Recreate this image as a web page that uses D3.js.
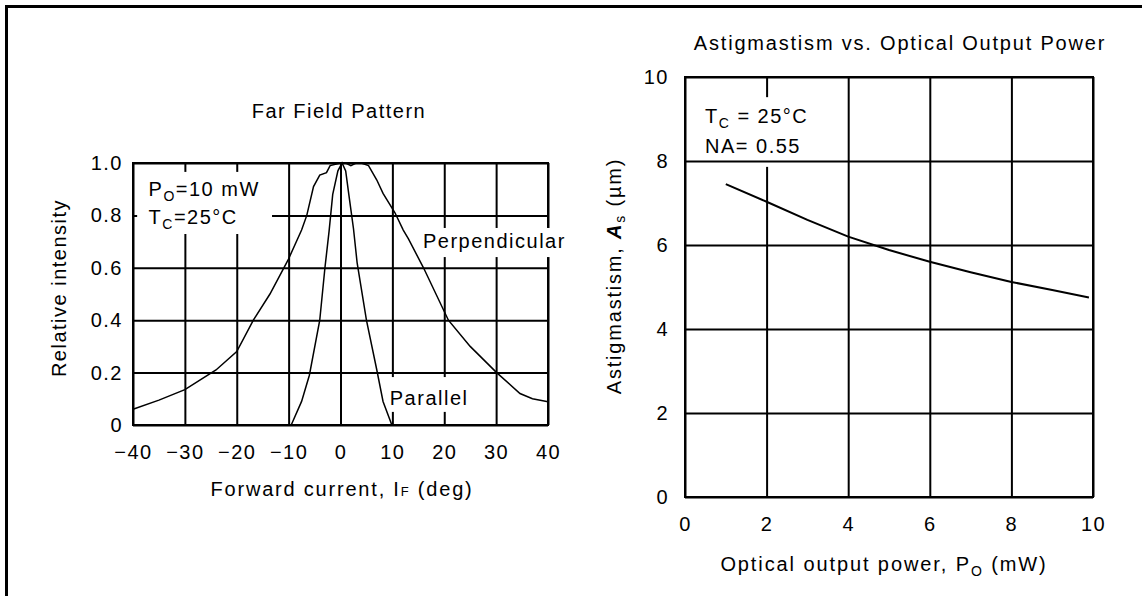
<!DOCTYPE html>
<html>
<script src="https://d3js.org/d3.v7.min.js"></script>
<head>
  <title>Far Field Pattern / Astigmatism</title>
  <style>
    body { margin: 0; background: #fff; }
    svg text { font-family: "Liberation Sans", Arial, sans-serif; font-size: 20px; letter-spacing: 1.5px; fill: #000; }
  </style>
</head>
<body>
<div id="canvas"></div>
<script>
// ---- left panel: far field pattern ----
var angleTicks = [-40, -30, -20, -10, 0, 10, 20, 30, 40];
var angleTickLabels = ["\u221240", "\u221230", "\u221220", "\u221210", "0", "10", "20", "30", "40"];
var intensityTicks = [0, 0.2, 0.4, 0.6, 0.8, 1.0];
var intensityTickLabels = ["0", "0.2", "0.4", "0.6", "0.8", "1.0"];

var perpAngle = [-40, -35, -30, -24, -20, -16.8, -13.6, -10.1, -7.5, -6.5, -5.2, -4, -2.7, -2, 0, 1, 2, 3, 4, 5.4, 7, 8.2, 10.5, 12.1, 13.1, 16, 20.8, 25, 30.1, 34.6, 37, 40];
var perpIntensity = [0.06, 0.095, 0.135, 0.21, 0.28, 0.40, 0.50, 0.63, 0.744, 0.80, 0.91, 0.954, 0.963, 0.99, 1.0, 1.0, 0.99, 1.0, 1.0, 0.99, 0.935, 0.884, 0.81, 0.744, 0.71, 0.6, 0.4, 0.3, 0.2, 0.12, 0.1, 0.089];

var parAngle = [-9.5, -7.5, -6, -4, -3, -2.2, -1.5, -0.5, 0.3, 1, 1.6, 2.5, 3.2, 5, 7, 8.2, 9.9];
var parIntensity = [0, 0.09, 0.19, 0.40, 0.60, 0.74, 0.88, 0.97, 1.0, 0.97, 0.88, 0.75, 0.62, 0.40, 0.21, 0.09, 0];

// ---- right panel: astigmatism vs optical output power ----
var powerTicks = [0, 2, 4, 6, 8, 10];
var astigTicks = [0, 2, 4, 6, 8, 10];
var powerMw = [1, 2, 3, 4, 5, 6, 7, 8, 9, 9.9];
var astigUm = [7.45, 7.03, 6.6, 6.2, 5.88, 5.6, 5.35, 5.12, 4.93, 4.75];

var width = 1142, height = 596;
var svg = d3.select("#canvas").append("svg")
  .attr("width", width)
  .attr("height", height);

// page frame (top and left only, as in the scan)
svg.append("path")
  .attr("d", "M6.5,596V6.5H1142")
  .attr("fill", "none")
  .attr("stroke", "#000")
  .attr("stroke-width", 3);

function styleGrid(g) {
  g.select(".domain").remove();
  g.selectAll(".tick line").attr("stroke", "#000").attr("stroke-width", 2);
}

// ================= left chart =================
var xL = d3.scaleLinear().domain([-40, 40]).range([133, 548]);
var yL = d3.scaleLinear().domain([0, 1]).range([425, 163]);

var left = svg.append("g");

left.append("g")
  .attr("transform", `translate(0,${yL(0)})`)
  .call(d3.axisBottom(xL).tickValues(angleTicks).tickSize(-(yL(0) - yL(1))).tickPadding(20)
    .tickFormat(function(d, i) { return angleTickLabels[i]; }))
  .call(styleGrid);

left.append("g")
  .attr("transform", `translate(${xL(-40)},0)`)
  .call(d3.axisLeft(yL).tickValues(intensityTicks).tickSize(-(xL(40) - xL(-40))).tickPadding(10)
    .tickFormat(function(d, i) { return intensityTickLabels[i]; }))
  .call(styleGrid);

left.append("rect")
  .attr("x", xL(-40)).attr("y", yL(1))
  .attr("width", xL(40) - xL(-40)).attr("height", yL(0) - yL(1))
  .attr("fill", "none").attr("stroke", "#000").attr("stroke-width", 2);

// white patches behind the in-plot labels
var leftBoxes = [[-39.2, -13.2, 0.966, 0.729], [15.5, 44.2, 0.752, 0.641], [9.2, 24.2, 0.183, 0.05]];
left.selectAll(".mask").data(leftBoxes).enter().append("rect")
  .attr("x", function(d) { return xL(d[0]); })
  .attr("y", function(d) { return yL(d[2]); })
  .attr("width", function(d) { return xL(d[1]) - xL(d[0]); })
  .attr("height", function(d) { return yL(d[3]) - yL(d[2]); })
  .attr("fill", "#fff");

var lineL = d3.line().x(function(d) { return xL(d[0]); }).y(function(d) { return yL(d[1]); });
left.append("path")
  .attr("d", lineL(d3.zip(perpAngle, perpIntensity)))
  .attr("fill", "none").attr("stroke", "#000").attr("stroke-width", 1.5);
left.append("path")
  .attr("d", lineL(d3.zip(parAngle, parIntensity)))
  .attr("fill", "none").attr("stroke", "#000").attr("stroke-width", 1.5);

var po = left.append("text").attr("x", xL(-37)).attr("y", yL(0.874));
po.append("tspan").text("P");
po.append("tspan").style("font-size", "14px").attr("dy", 5).text("O");
po.append("tspan").attr("dy", -5).text("=10 mW");
var tc = left.append("text").attr("x", xL(-37)).attr("y", yL(0.767));
tc.append("tspan").text("T");
tc.append("tspan").style("font-size", "14px").attr("dy", 5).text("C");
tc.append("tspan").attr("dy", -5).text("=25\u00B0C");

left.append("text").attr("x", xL(15.9)).attr("y", yL(0.676)).text("Perpendicular");
left.append("text").attr("x", xL(9.5)).attr("y", yL(0.076)).text("Parallel");

left.append("text").attr("x", 339).attr("y", 118).attr("text-anchor", "middle").text("Far Field  Pattern");

var xlab = left.append("text").attr("x", 342).attr("y", 496).attr("text-anchor", "middle")
  .style("letter-spacing", "1.8px");
xlab.append("tspan").text("Forward current, I");
xlab.append("tspan").style("font-size", "13px").text("F");
xlab.append("tspan").text(" (deg)");

left.append("text")
  .attr("transform", "translate(66,288) rotate(-90)")
  .attr("text-anchor", "middle")
  .text("Relative intensity");

// ================= right chart =================
var xR = d3.scaleLinear().domain([0, 10]).range([685, 1093]);
var yR = d3.scaleLinear().domain([0, 10]).range([497, 77]);

var right = svg.append("g");

right.append("g")
  .attr("transform", `translate(0,${yR(0)})`)
  .call(d3.axisBottom(xR).tickValues(powerTicks).tickSize(-(yR(0) - yR(10))).tickPadding(20))
  .call(styleGrid);

right.append("rect")
  .attr("x", xR(0.37)).attr("y", yR(9.52))
  .attr("width", xR(3.19) - xR(0.37)).attr("height", yR(7.86) - yR(9.52))
  .attr("fill", "#fff");

right.append("g")
  .attr("transform", `translate(${xR(0)},0)`)
  .call(d3.axisLeft(yR).tickValues(astigTicks).tickSize(-(xR(10) - xR(0))).tickPadding(16))
  .call(styleGrid);

right.append("rect")
  .attr("x", xR(0)).attr("y", yR(10))
  .attr("width", xR(10) - xR(0)).attr("height", yR(0) - yR(10))
  .attr("fill", "none").attr("stroke", "#000").attr("stroke-width", 2);

var lineR = d3.line().x(function(d) { return xR(d[0]); }).y(function(d) { return yR(d[1]); });
right.append("path")
  .attr("d", lineR(d3.zip(powerMw, astigUm)))
  .attr("fill", "none").attr("stroke", "#000").attr("stroke-width", 2);

var tc2 = right.append("text").attr("x", xR(0.49)).attr("y", yR(8.9));
tc2.append("tspan").text("T");
tc2.append("tspan").style("font-size", "14px").attr("dy", 5).text("C");
tc2.append("tspan").attr("dy", -5).text(" = 25\u00B0C");
right.append("text").attr("x", xR(0.49)).attr("y", yR(8.2)).text("NA= 0.55");

right.append("text").attr("x", 900).attr("y", 50).attr("text-anchor", "middle")
  .style("letter-spacing", "1.8px")
  .text("Astigmastism vs. Optical Output Power");

var xlab2 = right.append("text").attr("x", 884).attr("y", 571).attr("text-anchor", "middle")
  .style("letter-spacing", "1.9px");
xlab2.append("tspan").text("Optical output power, P");
xlab2.append("tspan").style("font-size", "14px").attr("dy", 5).text("O");
xlab2.append("tspan").attr("dy", -5).text("  (mW)");

var ylab2 = right.append("text")
  .attr("transform", "translate(621,276) rotate(-90)")
  .attr("text-anchor", "middle")
  .style("letter-spacing", "1.8px");
ylab2.append("tspan").text("Astigmastism, ");
ylab2.append("tspan").style("font-weight", "bold").style("font-style", "italic").text("A");
ylab2.append("tspan").style("font-size", "14px").attr("dy", 4).text("s");
ylab2.append("tspan").attr("dy", -4).text("  (\u00B5m)");
</script>
</body>
</html>
